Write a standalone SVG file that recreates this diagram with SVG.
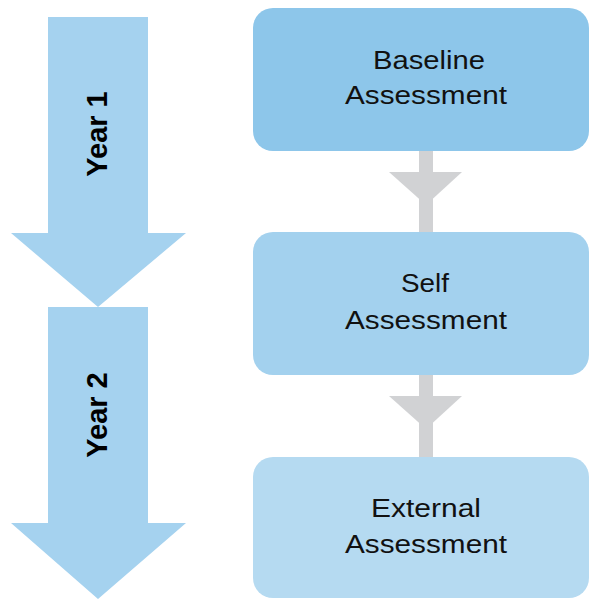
<svg xmlns="http://www.w3.org/2000/svg" width="590" height="599" viewBox="0 0 590 599">
<style>
.yr{fill:#A5D2EF}
.yt{font-family:"Liberation Sans",Arial,sans-serif;font-weight:bold;font-size:29px;fill:#000;text-anchor:middle}
.bt{font-family:"Liberation Sans",Arial,sans-serif;font-size:25px;fill:#111;text-anchor:middle}
.cn{fill:#D1D2D4}
</style>
<rect width="590" height="599" fill="#fff"/>
<g id="year1">
<polygon class="yr" points="48,17 148,17 148,233 186,233 98,307 11,233 48,233"/>
<text class="yt" transform="translate(107,134) rotate(-90)">Year 1</text>
</g>
<g id="year2">
<polygon class="yr" points="48,307 148,307 148,523 186,523 98,599 11,523 48,523"/>
<text class="yt" transform="translate(107,415) rotate(-90)">Year 2</text>
</g>
<g id="connectors">
<rect class="cn" x="419" y="150" width="14" height="84"/>
<polygon class="cn" points="389,172 462,172 426,205"/>
<rect class="cn" x="419" y="374" width="14" height="85"/>
<polygon class="cn" points="389,396 462,396 426,429"/>
</g>
<g id="baseline">
<rect x="253" y="8" width="336" height="143" rx="20" fill="#8DC6EA"/>
<text class="bt" x="429" y="69" textLength="112" lengthAdjust="spacingAndGlyphs">Baseline</text>
<text class="bt" x="426" y="104" textLength="162" lengthAdjust="spacingAndGlyphs">Assessment</text>
</g>
<g id="self">
<rect x="253" y="232" width="336" height="143" rx="20" fill="#A3D1EE"/>
<text class="bt" x="425" y="292" textLength="48" lengthAdjust="spacingAndGlyphs">Self</text>
<text class="bt" x="426" y="329" textLength="162" lengthAdjust="spacingAndGlyphs">Assessment</text>
</g>
<g id="external">
<rect x="253" y="457" width="336" height="141" rx="20" fill="#B5DAF1"/>
<text class="bt" x="426" y="517" textLength="110" lengthAdjust="spacingAndGlyphs">External</text>
<text class="bt" x="426" y="553" textLength="162" lengthAdjust="spacingAndGlyphs">Assessment</text>
</g>
</svg>
